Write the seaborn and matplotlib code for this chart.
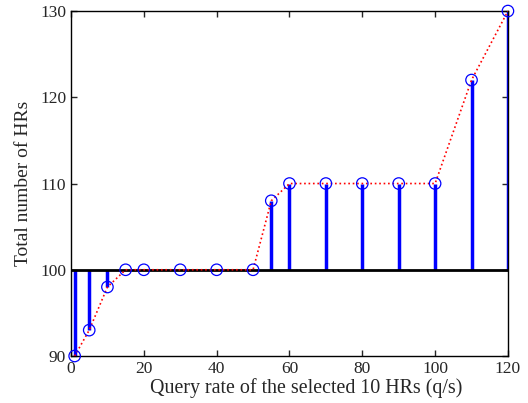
import pandas as pd
import seaborn as sns
import matplotlib
matplotlib.use("Agg")
import matplotlib.pyplot as plt

# query rate (q/s) and total number of HRs
query_rate = [1, 5, 10, 15, 20, 30, 40, 50, 55, 60, 70, 80, 90, 100, 110, 120]
total_hrs = [90, 93, 98, 100, 100, 100, 100, 100, 108, 110, 110, 110, 110, 110, 122, 130]
baseline = 100

x_ticks = [0, 20, 40, 60, 80, 100, 120]
y_ticks = [90, 100, 110, 120, 130]

df = pd.DataFrame({"rate": query_rate, "hrs": total_hrs})

sns.set_style("ticks")
plt.rcParams['font.family'] = ['Liberation Serif', 'DejaVu Serif']

fig = plt.figure(figsize=(5.28, 4.03), dpi=100)
ax = fig.add_axes([0.1345, 0.1166, 0.8275, 0.856])

# stems from the baseline
ax.vlines(df["rate"], baseline, df["hrs"], color="#0000ff", linewidth=2.5, zorder=2)
ax.axhline(baseline, color="black", linewidth=2, zorder=3)

# dotted red connecting line
sns.lineplot(data=df, x="rate", y="hrs", ax=ax, color="red", linestyle=":",
             linewidth=1.2, zorder=4)

# open circle markers
sns.scatterplot(data=df, x="rate", y="hrs", ax=ax, s=68, marker="o",
                facecolors="none", edgecolor="#0000ff", linewidth=0.9, zorder=5,
                clip_on=False)

ax.set_xlim(0, 120)
ax.set_ylim(90, 130)
ax.set_xticks(x_ticks)
ax.set_yticks(y_ticks)
ax.tick_params(direction="in", top=True, right=True, labelsize=12.5, length=4, width=1)
for s in ax.spines.values():
    s.set_linewidth(1.0)
    s.set_color("black")

ax.set_xlabel("Query rate of the selected 10 HRs (q/s)", fontsize=14.4, labelpad=1, x=0.538)
ax.set_ylabel("Total number of HRs", fontsize=14, labelpad=6)

fig.savefig("out.png", dpi=100)
